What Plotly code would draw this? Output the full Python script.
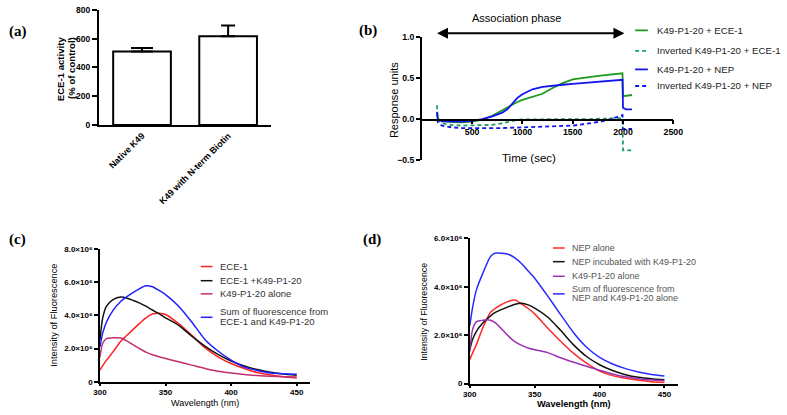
import plotly.graph_objects as go

# ---------------- data ----------------
# (a) bar chart
bar_cats = ["Native K49", "K49 with N-term Biotin"]
bar_vals = [510, 617]
bar_errs = [25, 75]

# (b) SPR sensorgram
time_s = [150, 160, 200, 300, 400, 500, 600, 700, 800, 850, 900, 950, 1000, 1100,
          1200, 1300, 1400, 1500, 1600, 1700, 1800, 1900, 1995, 2000, 2030, 2090]
ru_k49_ece = [0.06, 0.0, -0.02, -0.035, -0.04, -0.03, -0.005, 0.04, 0.11, 0.145, 0.18, 0.21, 0.235, 0.27,
              0.31, 0.38, 0.44, 0.485, 0.505, 0.52, 0.535, 0.55, 0.56, 0.28, 0.285, 0.295]
ru_inv_ece = [0.17, -0.02, -0.05, -0.072, -0.078, -0.078, -0.076, -0.07, -0.05, -0.035, -0.02, -0.008, -0.002, 0.0,
              0.0, 0.0, 0.0, 0.0, 0.0, 0.003, 0.006, 0.01, 0.012, -0.38, -0.38, -0.38]
ru_k49_nep = [0.09, 0.0, -0.025, -0.03, -0.028, -0.02, 0.0, 0.035, 0.08, 0.12, 0.19, 0.26, 0.305, 0.365,
              0.395, 0.41, 0.42, 0.43, 0.44, 0.45, 0.46, 0.47, 0.48, 0.14, 0.12, 0.12]
ru_inv_nep = [0.0, -0.04, -0.08, -0.1, -0.108, -0.11, -0.11, -0.11, -0.108, -0.106, -0.104, -0.1, -0.098, -0.095,
              -0.093, -0.092, -0.088, -0.078, -0.062, -0.048, -0.025, 0.01, 0.05, -0.12, -0.12, -0.12]
b_names = ["K49-P1-20 + ECE-1", "Inverted K49-P1-20 + ECE-1", "K49-P1-20 + NEP", "Inverted K49-P1-20 + NEP"]
b_colors = ["#1e9a1e", "#1fa060", "#1414f0", "#1414f0"]
b_dash = ["solid", "4px,3px", "solid", "4px,3px"]

# (c) fluorescence, ECE-1
wl = [300, 302, 305, 310, 316, 320, 330, 335, 340, 345, 350, 360, 370, 380, 390, 400, 410, 420, 430, 440, 450]
c_ece1 = [0.7, 0.95, 1.3, 1.8, 2.45, 2.75, 3.5, 3.85, 4.08, 4.13, 4.05, 3.5, 2.8, 2.05, 1.5, 1.1, 0.8, 0.55, 0.4, 0.3, 0.22]
c_ece1_k49 = [2.5, 3.8, 4.55, 4.95, 5.1, 5.05, 4.75, 4.55, 4.32, 4.1, 3.85, 3.4, 2.75, 2.15, 1.65, 1.25, 0.95, 0.73, 0.57, 0.47, 0.39]
c_k49 = [1.47, 2.3, 2.6, 2.65, 2.63, 2.48, 2.0, 1.78, 1.62, 1.5, 1.4, 1.2, 1.0, 0.8, 0.63, 0.52, 0.43, 0.37, 0.33, 0.3, 0.28]
c_sum = [2.1, 2.9, 3.6, 4.3, 4.85, 5.1, 5.6, 5.78, 5.72, 5.5, 5.25, 4.55, 3.6, 2.55, 1.85, 1.3, 0.88, 0.68, 0.53, 0.48, 0.45]
c_names = ["ECE-1", "ECE-1 +K49-P1-20", "K49-P1-20 alone", "Sum of fluorescence from<br>ECE-1 and K49-P1-20"]
c_colors = ["#ff2020", "#111111", "#c0306e", "#2020ff"]

# (d) fluorescence, NEP
d_nep = [0.99, 1.25, 1.6, 2.3, 2.95, 3.12, 3.4, 3.45, 3.28, 3.1, 2.88, 2.3, 1.75, 1.25, 0.85, 0.52, 0.33, 0.22, 0.14, 0.08, 0.05]
d_nep_k49 = [1.39, 1.8, 2.15, 2.5, 2.8, 2.95, 3.18, 3.28, 3.32, 3.25, 3.12, 2.75, 2.2, 1.6, 1.12, 0.78, 0.54, 0.37, 0.26, 0.2, 0.16]
d_k49 = [1.32, 2.2, 2.55, 2.62, 2.62, 2.5, 1.95, 1.72, 1.58, 1.47, 1.4, 1.28, 1.07, 0.88, 0.72, 0.55, 0.4, 0.28, 0.2, 0.15, 0.12]
d_sum = [2.39, 3.1, 3.85, 4.55, 5.25, 5.39, 5.33, 5.18, 4.95, 4.65, 4.35, 3.62, 2.85, 2.1, 1.5, 1.08, 0.81, 0.62, 0.48, 0.38, 0.32]
d_names = ["NEP alone", "NEP incubated with K49-P1-20", "K49-P1-20 alone", "Sum of fluorescence from<br>NEP and K49-P1-20 alone"]
d_colors = ["#ff2a2a", "#111111", "#9b30b0", "#2a2aff"]

SCALE = 1e6
c_ticks = ["0", "2.0×10⁶", "4.0×10⁶", "6.0×10⁶", "8.0×10⁶"]
d_ticks = ["0", "2.0×10⁶", "4.0×10⁶", "6.0×10⁶"]

# ---------------- helpers ----------------
W, H = 787, 415
def fx(x):
    return x / W
def fy(y):
    return 1 - y / H

SANS = "Arial, 'Liberation Sans', sans-serif"
SERIF = "'Times New Roman', 'Liberation Serif', serif"

fig = go.Figure()

# (a)
cap_w = [11, 7]
for i in range(2):
    fig.add_trace(go.Bar(
        x=[bar_cats[i]], y=[bar_vals[i]], width=0.67,
        marker=dict(color="white", line=dict(color="black", width=2)),
        error_y=dict(type="data", array=[bar_errs[i]], arrayminus=[0], symmetric=False,
                     color="black", thickness=2, width=cap_w[i]),
        xaxis="x", yaxis="y", showlegend=False))

# (b)
b_series = [ru_k49_ece, ru_inv_ece, ru_k49_nep, ru_inv_nep]
for s, n, c, d in zip(b_series, b_names, b_colors, b_dash):
    fig.add_trace(go.Scatter(x=time_s, y=s, mode="lines", name=n,
                             line=dict(color=c, width=1.8, dash=d),
                             xaxis="x2", yaxis="y2", showlegend=False))

# (c)
for s, n, c in zip([c_ece1, c_ece1_k49, c_k49, c_sum], c_names, c_colors):
    fig.add_trace(go.Scatter(x=wl, y=[v * SCALE for v in s], mode="lines", name=n,
                             line=dict(color=c, width=1.5, shape="spline", smoothing=0.6),
                             xaxis="x3", yaxis="y3", showlegend=False))

# (d)
for s, n, c in zip([d_nep, d_nep_k49, d_k49, d_sum], d_names, d_colors):
    fig.add_trace(go.Scatter(x=wl, y=[v * SCALE for v in s], mode="lines", name=n,
                             line=dict(color=c, width=1.5, shape="spline", smoothing=0.6),
                             xaxis="x4", yaxis="y4", showlegend=False))

def ax(**kw):
    base = dict(showgrid=False, zeroline=False, showline=True, linecolor="black",
                linewidth=1.5, ticks="outside", ticklen=4, tickwidth=1.5, tickcolor="black",
                tickfont=dict(family=SANS, size=8.5, color="black", weight="bold"),
                fixedrange=True)
    base.update(kw)
    return base

fig.update_layout(
    width=W, height=H, margin=dict(l=0, r=0, t=0, b=0),
    paper_bgcolor="white", plot_bgcolor="white", showlegend=False, barmode="overlay",
    font=dict(family=SANS, color="black"),
    xaxis=ax(domain=[fx(94), fx(270)], anchor="y", type="category", categoryarray=bar_cats,
             range=[-0.5, 1.5], ticks="", tickangle=-45, linewidth=2,
             tickfont=dict(family=SANS, size=9, color="black", weight="bold")),
    yaxis=ax(domain=[fy(123), fy(5)], anchor="x", range=[0, 800], tickvals=[0, 200, 400, 600, 800],
             linewidth=2, ticklen=5),
    xaxis2=ax(domain=[fx(424), fx(681)], anchor="free", position=fy(117.5), range=[0, 2500],
              tickvals=[500, 1000, 1500, 2000, 2500], tickfont=dict(family=SANS, size=8.8, color="black", weight="bold")),
    yaxis2=ax(domain=[fy(159), fy(33)], anchor="x2", range=[-0.5, 1.0], tickvals=[-0.5, 0, 0.5, 1.0],
              tickformat=".1f", tickfont=dict(family=SANS, size=8.7, color="black", weight="bold")),
    xaxis3=ax(domain=[fx(95), fx(310)], anchor="y3", range=[300, 460.4], tickvals=[300, 350, 400, 450],
              ticklen=3, ticklabelstandoff=-1,
              tickfont=dict(family=SANS, size=8, color="black", weight="bold")),
    yaxis3=ax(domain=[fy(386), fy(250)], anchor="x3", range=[0, 8e6], tickvals=[0, 2e6, 4e6, 6e6, 8e6],
              ticktext=c_ticks, tickfont=dict(family=SANS, size=8, color="black", weight="bold")),
    xaxis4=ax(domain=[fx(473), fx(686)], anchor="y4", range=[300, 460.6], tickvals=[300, 350, 400, 450],
              ticklen=3, ticklabelstandoff=-1,
              tickfont=dict(family=SANS, size=8, color="black", weight="bold")),
    yaxis4=ax(domain=[fy(388), fy(239)], anchor="x4", range=[0, 6e6], tickvals=[0, 2e6, 4e6, 6e6],
              ticktext=d_ticks, tickfont=dict(family=SANS, size=8, color="black", weight="bold")),
)

ann = []
shapes = []

def text(x, y, t, size, bold=False, angle=0, family=SANS, color="black", xanchor="center"):
    ann.append(dict(x=fx(x), y=fy(y), xref="paper", yref="paper", text=t, showarrow=False,
                    textangle=angle, xanchor=xanchor, yanchor="middle",
                    font=dict(family=family, size=size, color=color, weight="bold" if bold else "normal")))

# panel labels
text(11, 27, "(a)", 15, bold=True, family=SERIF)
text(369, 26, "(b)", 15, bold=True, family=SERIF)
text(11, 240, "(c)", 15, bold=True, family=SERIF)
text(373, 240, "(d)", 15, bold=True, family=SERIF)

# axis titles
text(55, 65, "ECE-1 activity", 9.6, bold=True, angle=-90)
text(66, 65, "(% of control)", 9.6, bold=True, angle=-90)
text(395.5, 97.5, "Response units", 11, angle=-90)
text(534, 157, "Time (sec)", 11.5)
text(48, 317.5, "Intensity of Fluorescence", 9.3, angle=-90)
text(202.5, 407.5, "Wavelength (nm)", 9)
text(426.5, 314, "Intensity of Fluorescence", 8.8, angle=-90)
text(580, 408.5, "Wavelength (nm)", 9.2, bold=True)

# association phase arrow
ann.append(dict(x=2014, y=fy(29), xref="x2", yref="paper", ax=136, ay=0, axref="x2", ayref="pixel",
                text="", showarrow=True, arrowhead=2, arrowsize=1.1, arrowwidth=2, arrowcolor="black",
                arrowside="end+start"))
text(521, 13, "Association phase", 11)

# legends (manual, to match compact spacing)
def legend(x0, x1, xt, rows, names, colors, dashes, size, tcolor, lw):
    for (ly, ty_list), n, c, d in zip(rows, names, colors, dashes):
        shapes.append(dict(type="line", xref="paper", yref="paper", x0=fx(x0), x1=fx(x1),
                           y0=fy(ly), y1=fy(ly), line=dict(color=c, width=lw, dash=d)))
        for ty, t in zip(ty_list, n.split("<br>")):
            text(xt, ty, t, size, color=tcolor, xanchor="left")

legend(642, 655, 662, [(26, [26]), (47, [47]), (66, [66]), (83, [83])],
       b_names, b_colors, b_dash, 9.7, "#222222", 1.8)
legend(198, 210, 216, [(268, [268]), (282.5, [282.5]), (296, [296]), (320, [314, 324.5])],
       c_names, c_colors, ["solid"] * 4, 9.5, "#333333", 1.5)
legend(558, 570, 575, [(249, [249]), (263, [263]), (278, [278]), (296, [291, 300.5])],
       d_names, d_colors, ["solid"] * 4, 9, "#555555", 1.5)

fig.update_layout(annotations=ann, shapes=shapes)
fig.write_html("out.html", config={"displayModeBar": False},
               post_script="document.body.style.margin='0px';document.body.style.overflow='hidden';")
